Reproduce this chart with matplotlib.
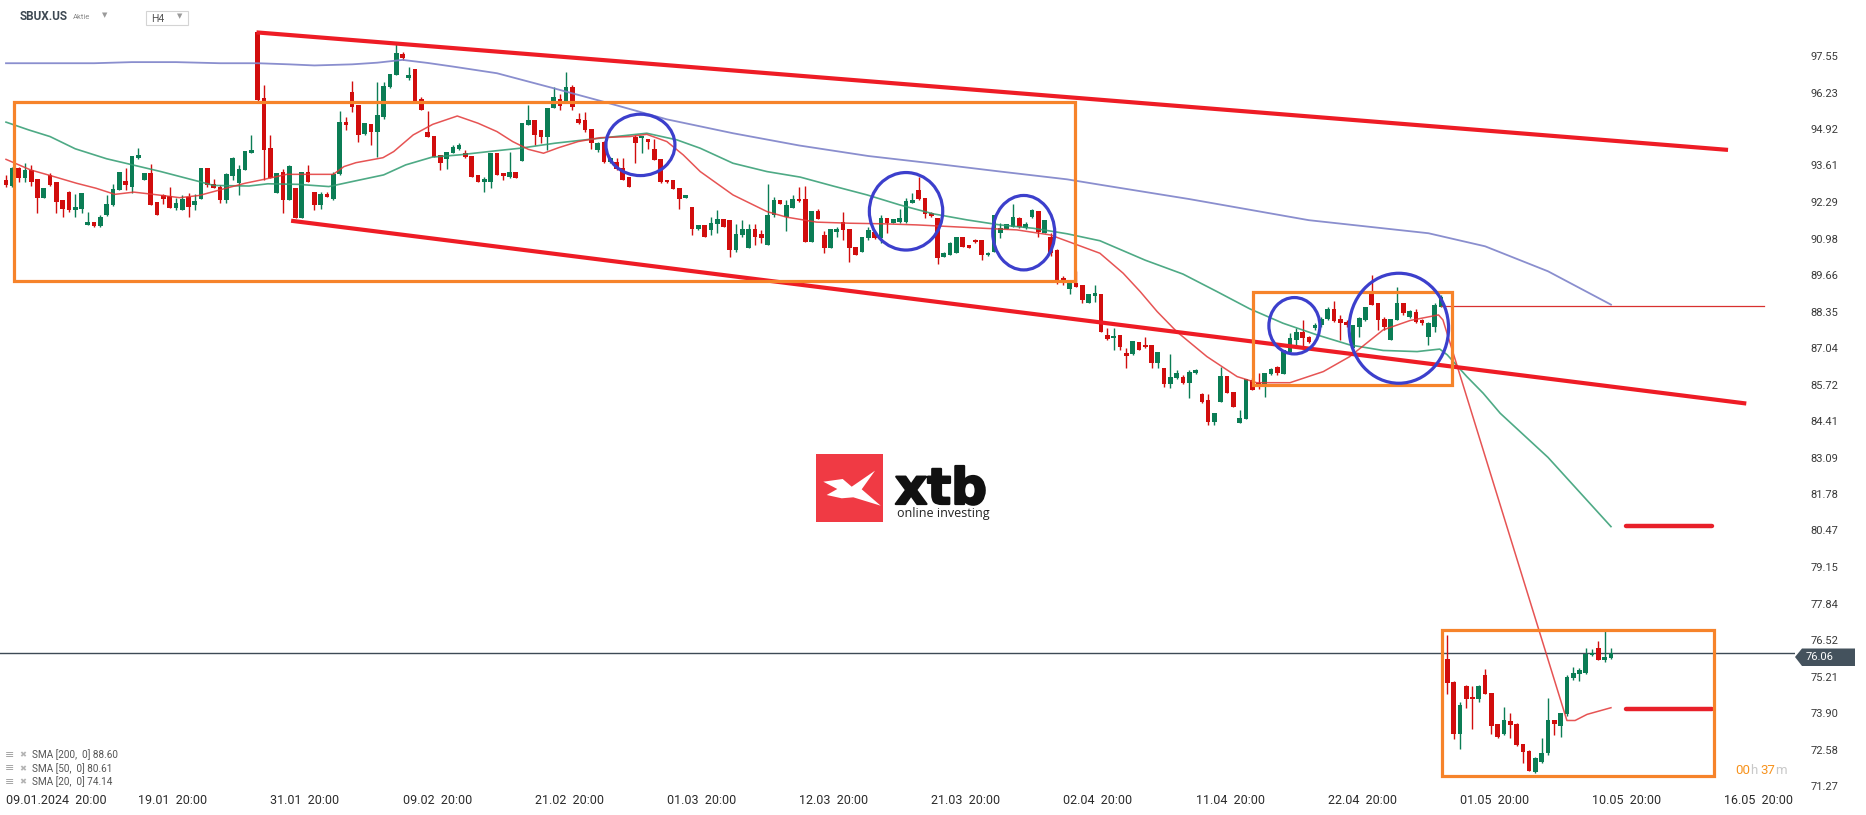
import matplotlib
matplotlib.use("Agg")
import matplotlib.pyplot as plt
import matplotlib.transforms as mtransforms
import matplotlib.patheffects as pe
from matplotlib.patches import Rectangle, Ellipse, Polygon
import numpy as np

# candle data, SBUX.US H4 (one entry per candle)
opens = [
    93.09, 92.87, 93.51, 93.17, 93.45, 93.14, 92.45, 93.28, 93.02, 92.37,
    92.66, 91.99, 92.06, 91.48, 91.58, 91.43, 91.83, 92.17, 92.71, 93.05,
    92.85, 93.88, 93.07, 93.34, 92.30, 92.53, 92.50, 92.09, 92.02, 92.47,
    92.17, 92.42, 93.52, 92.93, 92.85, 92.38, 93.23, 92.99, 93.46, 94.07,
    98.41, 96.03, 94.24, 92.63, 93.38, 92.38, 92.80, 91.73, 93.37, 92.66,
    92.17, 92.59, 92.42, 93.31, 95.18, 96.27, 95.78, 94.73, 95.11, 94.83,
    95.37, 96.45, 96.85, 97.63, 96.77, 97.07, 96.00, 94.83, 94.67, 93.99,
    93.85, 94.07, 94.21, 94.07, 93.95, 93.27, 93.01, 93.03, 94.07, 93.34,
    93.21, 93.39, 93.77, 95.07, 95.25, 94.89, 94.63, 95.67, 96.00, 95.93,
    96.45, 95.30, 95.25, 94.93, 94.17, 94.47, 93.75, 93.75, 93.53, 93.19,
    94.63, 94.59, 94.55, 94.21, 93.85, 93.09, 93.09, 92.81, 92.43, 92.13,
    91.34, 91.45, 91.27, 91.51, 91.67, 91.65, 90.57, 91.09, 90.63, 91.33,
    91.15, 90.73, 91.83, 92.37, 91.77, 92.09, 92.41, 92.41, 90.87, 91.97,
    91.09, 90.65, 91.23, 91.57, 91.33, 90.67, 90.51, 90.99, 91.21, 91.01,
    91.73, 91.55, 91.57, 91.59, 92.27, 92.71, 92.45, 91.89, 91.73, 90.33,
    90.39, 90.47, 91.05, 90.75, 90.93, 90.93, 90.37, 90.51, 91.17, 91.33,
    91.41, 91.73, 91.35, 91.75, 91.97, 91.17, 91.05, 90.57, 89.57, 89.17,
    89.38, 89.31, 88.67, 88.91, 88.99, 87.51, 87.39, 87.51, 86.85, 86.81,
    87.27, 87.15, 87.15, 86.49, 86.33, 85.73, 85.95, 86.01, 85.77, 86.13,
    85.39, 85.17, 84.39, 85.11, 86.03, 85.47, 84.35, 84.47, 85.89, 85.79,
    85.75, 86.11, 86.37, 86.09, 86.91, 87.33, 87.63, 87.45, 87.77, 87.87,
    88.07, 88.43, 88.07, 87.99, 87.03, 87.81, 88.05, 89.01, 88.65, 88.07,
    87.33, 88.05, 88.65, 88.15, 88.35, 88.05, 87.45, 87.81, 88.53, 75.83,
    75.03, 73.13, 74.87, 74.49, 74.39, 75.27, 74.63, 73.49, 73.13, 73.61,
    73.51, 72.77, 72.53, 71.79, 72.13, 72.45, 73.65, 73.43, 73.85, 75.17,
    75.29, 75.33, 75.99, 76.25, 75.79, 75.87,
]
highs = [
    93.27, 93.55, 93.55, 93.69, 93.63, 93.14, 92.80, 93.35, 93.02, 92.37,
    92.68, 92.57, 92.62, 91.93, 91.58, 91.84, 92.54, 92.93, 93.38, 93.51,
    93.95, 94.23, 93.34, 93.67, 92.30, 92.59, 92.83, 92.43, 92.54, 92.61,
    92.57, 93.52, 93.52, 93.11, 92.92, 93.33, 93.93, 93.63, 94.12, 94.71,
    98.45, 96.51, 94.71, 93.34, 93.47, 93.63, 92.80, 93.37, 93.61, 92.66,
    92.66, 92.66, 93.37, 95.57, 95.37, 96.65, 95.80, 95.14, 95.11, 96.60,
    96.60, 96.90, 98.01, 97.71, 97.17, 97.07, 96.06, 95.57, 94.67, 93.99,
    94.11, 94.35, 94.41, 94.15, 93.95, 93.27, 93.21, 94.07, 94.07, 93.34,
    94.11, 93.39, 95.15, 95.79, 95.25, 94.89, 95.67, 96.45, 96.20, 96.96,
    96.50, 95.49, 95.55, 94.93, 94.45, 94.50, 93.93, 93.87, 93.87, 93.19,
    94.70, 94.67, 94.55, 94.55, 93.85, 93.09, 93.09, 92.81, 92.55, 92.13,
    91.45, 91.45, 91.77, 92.01, 91.67, 91.65, 91.51, 91.65, 91.51, 91.51,
    91.29, 92.93, 92.49, 92.37, 92.37, 92.55, 92.85, 92.87, 91.97, 92.03,
    91.25, 91.33, 91.41, 91.95, 91.33, 90.67, 91.05, 91.41, 91.23, 91.83,
    91.73, 91.67, 92.03, 92.45, 92.61, 93.19, 92.45, 91.94, 91.73, 90.50,
    90.85, 91.05, 91.05, 90.75, 90.95, 90.93, 90.50, 91.83, 91.53, 91.51,
    92.21, 91.77, 91.59, 92.05, 91.97, 91.65, 91.17, 90.60, 89.63, 89.45,
    89.80, 89.31, 88.99, 89.31, 89.00, 87.77, 87.75, 87.51, 87.03, 87.30,
    87.27, 87.45, 87.15, 86.90, 86.33, 86.81, 86.25, 86.07, 86.25, 86.27,
    85.43, 85.39, 84.69, 86.35, 86.03, 85.47, 84.81, 85.91, 85.95, 86.13,
    86.13, 86.31, 86.39, 86.97, 87.57, 87.75, 88.05, 87.47, 87.93, 88.15,
    88.53, 88.73, 88.23, 88.05, 87.87, 88.17, 88.53, 89.65, 88.65, 88.17,
    88.07, 89.25, 88.67, 88.41, 88.43, 88.10, 87.99, 88.65, 88.95, 76.69,
    75.05, 74.31, 74.91, 74.87, 74.91, 75.47, 74.63, 73.49, 74.13, 73.90,
    73.55, 72.77, 72.55, 72.30, 73.01, 74.43, 73.65, 73.91, 75.25, 75.57,
    75.53, 76.25, 76.19, 76.49, 76.85, 76.23,
]
lows = [
    92.85, 92.85, 93.03, 93.03, 92.87, 91.91, 92.45, 92.87, 91.89, 91.77,
    91.95, 91.75, 91.91, 91.48, 91.41, 91.41, 91.79, 92.14, 92.71, 92.73,
    92.63, 93.83, 93.07, 92.20, 91.81, 92.24, 92.09, 91.99, 91.99, 91.75,
    91.99, 92.42, 92.83, 92.81, 92.27, 92.25, 93.09, 92.53, 93.46, 94.05,
    95.90, 93.09, 93.16, 92.63, 91.89, 92.37, 91.73, 91.73, 93.03, 92.01,
    92.03, 92.47, 92.35, 93.27, 94.87, 95.55, 94.47, 94.72, 94.34, 93.91,
    95.30, 96.40, 96.85, 97.40, 96.69, 95.90, 95.59, 94.65, 93.93, 93.43,
    93.50, 94.07, 94.15, 93.88, 93.21, 93.03, 92.67, 92.79, 93.25, 93.09,
    93.15, 93.17, 93.77, 95.07, 94.35, 94.41, 94.15, 95.67, 95.60, 95.90,
    95.60, 95.10, 94.80, 94.20, 94.10, 93.69, 93.70, 93.45, 93.09, 92.83,
    93.69, 94.07, 94.21, 93.79, 92.99, 92.97, 92.77, 92.05, 92.43, 91.10,
    91.30, 91.05, 91.11, 91.17, 91.41, 90.31, 90.51, 91.05, 90.63, 90.75,
    90.83, 90.73, 91.77, 92.21, 91.25, 92.07, 92.31, 90.87, 90.87, 91.69,
    90.45, 90.65, 91.05, 90.93, 90.15, 90.39, 90.51, 90.93, 90.95, 90.81,
    91.17, 91.55, 91.53, 91.55, 92.25, 92.37, 91.71, 91.75, 90.05, 90.30,
    90.39, 90.45, 90.69, 90.63, 90.81, 90.21, 90.35, 90.51, 90.99, 91.33,
    91.41, 91.35, 91.33, 91.71, 91.05, 91.17, 90.35, 89.35, 89.30, 89.00,
    89.22, 88.67, 88.65, 88.69, 87.60, 87.33, 86.97, 86.97, 86.33, 86.80,
    86.95, 87.03, 86.31, 86.31, 85.65, 85.59, 85.93, 85.75, 85.23, 86.11,
    85.07, 84.27, 84.27, 85.11, 85.43, 84.91, 84.35, 84.47, 85.51, 85.55,
    85.29, 86.08, 86.07, 86.09, 86.87, 87.15, 87.09, 87.23, 87.69, 87.80,
    88.05, 87.99, 87.33, 87.81, 87.03, 87.45, 88.00, 88.57, 87.69, 87.69,
    87.33, 88.05, 88.23, 88.11, 87.93, 87.85, 87.15, 87.63, 88.51, 74.57,
    72.97, 72.61, 74.09, 73.33, 74.30, 74.57, 73.13, 73.00, 73.10, 72.99,
    72.70, 72.11, 71.80, 71.75, 72.10, 72.40, 73.09, 73.03, 73.80, 75.07,
    75.05, 75.30, 75.95, 75.80, 75.75, 75.83,
]
closes = [
    92.92, 93.51, 93.17, 93.45, 93.03, 92.45, 92.80, 92.92, 92.31, 92.06,
    91.99, 92.12, 92.62, 91.58, 91.43, 91.77, 92.23, 92.77, 93.38, 92.89,
    93.95, 93.99, 93.34, 92.20, 91.81, 92.41, 92.09, 92.26, 92.41, 92.13,
    92.33, 93.52, 92.89, 92.81, 92.38, 93.31, 93.89, 93.49, 94.12, 94.17,
    95.97, 94.18, 93.16, 93.34, 92.38, 93.59, 91.73, 93.37, 93.03, 92.17,
    92.59, 92.49, 93.31, 95.18, 95.08, 95.73, 94.72, 95.14, 94.81, 95.43,
    96.48, 96.89, 97.65, 97.47, 96.87, 95.93, 95.61, 94.65, 93.93, 93.71,
    94.11, 94.29, 94.35, 93.91, 93.21, 93.03, 93.13, 94.07, 93.25, 93.22,
    93.37, 93.17, 95.15, 95.25, 94.69, 94.63, 95.67, 96.09, 95.75, 96.45,
    95.73, 95.15, 94.87, 94.41, 94.41, 93.75, 93.87, 93.47, 93.09, 92.83,
    94.43, 94.67, 94.47, 93.79, 93.03, 93.01, 92.77, 92.41, 92.55, 91.34,
    91.45, 91.05, 91.55, 91.67, 91.41, 90.57, 91.15, 91.33, 91.33, 91.05,
    91.01, 91.83, 92.37, 92.21, 92.19, 92.41, 92.33, 90.87, 91.97, 91.69,
    90.65, 91.33, 91.33, 91.27, 90.63, 90.39, 91.05, 91.27, 90.99, 91.71,
    91.55, 91.67, 91.71, 92.33, 92.37, 92.39, 91.85, 91.79, 90.29, 90.47,
    90.81, 91.05, 90.69, 90.63, 90.85, 90.37, 90.47, 91.83, 91.35, 91.51,
    91.75, 91.41, 91.51, 91.99, 91.23, 91.65, 90.45, 89.49, 89.50, 89.43,
    89.25, 88.77, 88.97, 89.01, 87.63, 87.37, 87.47, 87.07, 86.75, 87.29,
    86.97, 87.07, 86.49, 86.89, 85.75, 86.01, 86.13, 85.77, 86.19, 86.25,
    85.11, 84.39, 84.69, 86.03, 85.43, 84.91, 84.53, 85.91, 85.51, 85.75,
    86.13, 86.29, 86.13, 86.97, 87.41, 87.63, 87.39, 87.27, 87.87, 88.07,
    88.43, 88.01, 87.95, 87.87, 87.87, 88.11, 88.53, 88.57, 88.05, 87.81,
    88.07, 88.67, 88.29, 88.37, 87.99, 87.93, 87.93, 88.59, 88.87, 74.97,
    73.13, 74.17, 74.39, 74.39, 74.87, 74.57, 73.43, 73.05, 73.63, 73.45,
    72.73, 72.51, 71.81, 72.29, 72.47, 73.65, 73.49, 73.91, 75.21, 75.35,
    75.43, 76.01, 76.07, 75.81, 75.91, 76.07,
]

# moving averages, sampled along the drawn lines (candle index, price)
sma200_x = [0, 14, 20, 27, 34, 40, 45, 49, 55, 59, 63, 67, 71, 78, 87, 95, 105,
            115.5, 126, 137, 147, 158, 168.6, 174, 188, 207, 226, 235, 245, 255]
sma200_y = [97.29, 97.29, 97.33, 97.33, 97.29, 97.29, 97.25, 97.21, 97.25, 97.31,
            97.41, 97.30, 97.17, 96.93, 96.39, 95.90, 95.27, 94.77, 94.33, 93.95,
            93.69, 93.39, 93.11, 92.91, 92.40, 91.64, 91.17, 90.70, 89.80, 88.60]
sma50_x = [0, 3.6, 7, 11, 16, 19, 24.6, 30.7, 33, 38.6, 41.6, 46.4, 51.3, 55, 60,
           63.5, 67.7, 72, 77.5, 81.7, 87.2, 92.7, 96, 101.8, 106.6, 110.3, 115.5,
           120.9, 126.2, 131.4, 136.8, 142, 147.3, 152.7, 157.9, 163.2, 168.6,
           173.8, 181, 187, 192.4, 197.6, 202.9, 208.3, 213.5, 218.8, 224.2,
           227.8, 229, 232.1, 234.7, 237.4, 245, 255]
sma50_y = [95.17, 94.89, 94.65, 94.21, 93.85, 93.69, 93.39, 93.03, 92.89, 92.87,
           92.95, 92.93, 92.85, 93.03, 93.27, 93.63, 93.91, 93.99, 94.13, 94.23,
           94.41, 94.55, 94.63, 94.77, 94.53, 94.23, 93.69, 93.39, 93.19, 92.87,
           92.55, 92.19, 91.87, 91.65, 91.47, 91.35, 91.15, 90.90, 90.20, 89.70,
           89.07, 88.45, 87.93, 87.51, 87.15, 86.95, 86.91, 87.00, 86.79, 86.01,
           85.41, 84.69, 83.10, 80.61]
sma20_x = [0, 3.9, 7.6, 11.2, 14.3, 17.3, 20.3, 23.4, 27.6, 30.7, 34.3, 38, 41,
           44.6, 48.9, 52, 53.7, 55.6, 59.9, 61.6, 64.7, 67.8, 71.7, 75, 78, 80.5,
           83, 85.4, 87.8, 90.9, 94.4, 99.1, 101.8, 105, 107.6, 110.3, 115.5,
           120.9, 124, 128.8, 134.1, 139.3, 144.7, 150, 155.2, 160.6, 165.9,
           169.5, 173.8, 177.5, 180.2, 182.9, 186, 190.8, 195.6, 198.7, 204,
           209.3, 213.5, 218.8, 223.1, 227.6, 228.3, 248, 249.3, 251.2, 255]
sma20_y = [93.83, 93.45, 93.21, 92.97, 92.79, 92.57, 92.65, 92.57, 92.45, 92.53,
           92.75, 92.97, 93.11, 93.29, 93.29, 93.29, 93.57, 93.71, 93.89, 94.11,
           94.71, 95.09, 95.39, 95.13, 94.83, 94.47, 94.19, 94.05, 94.25, 94.47,
           94.61, 94.65, 94.73, 94.47, 93.99, 93.39, 92.55, 91.95, 91.75, 91.57,
           91.53, 91.51, 91.47, 91.41, 91.35, 91.29, 91.11, 90.81, 90.45, 89.73,
           89.07, 88.35, 87.63, 86.73, 86.01, 85.79, 85.79, 86.19, 86.73, 87.69,
           88.03, 88.23, 88.05, 73.63, 73.63, 73.85, 74.09]
sma_legend = ["SMA [200,  0] 88.60", "SMA [50,  0] 80.61", "SMA [20,  0] 74.14"]

# drawn annotations: trend channel, boxes, circles, levels
channel_top = ([39.8, 273.6], [98.40, 94.17])
channel_bottom = ([45.3, 276.5], [91.62, 85.04])
boxes = [(1.3, 89.45, 169.8, 95.88), (198.1, 85.70, 229.7, 89.07),
         (228.1, 71.64, 271.3, 76.89)]
circles = [(100.8, 94.35, 10.96, 2.21), (143.0, 91.96, 11.66, 2.79),
           (161.7, 91.19, 9.85, 2.68), (204.7, 87.84, 8.10, 2.03),
           (221.3, 87.75, 15.8, 3.96)]
level_line = ([228, 279.3], 88.56)
short_levels = ([257.4, 271.0], [80.63, 74.05])
last_price = 76.06

price_ticks = [97.55, 96.23, 94.92, 93.61, 92.29, 90.98, 89.66, 88.35, 87.04,
               85.72, 84.41, 83.09, 81.78, 80.47, 79.15, 77.84, 76.52, 75.21,
               73.90, 72.58, 71.27]
date_ticks = list(range(0, 274, 21))
date_labels = ["09.01.2024  20:00", "19.01  20:00", "31.01  20:00", "09.02  20:00",
               "21.02  20:00", "01.03  20:00", "12.03  20:00", "21.03  20:00",
               "02.04  20:00", "11.04  20:00", "22.04  20:00", "01.05  20:00",
               "10.05  20:00", "16.05  20:00"]

GREEN = "#0b7d55"
RED = "#d10d0d"

plt.rcParams["font.family"] = ["Roboto", "DejaVu Sans"]

W, H = 1866, 815
fig = plt.figure(figsize=(W / 100, H / 100), dpi=100)
fig.patch.set_facecolor("white")
# transform for things placed in pixels from the top-left corner
pix = mtransforms.Affine2D().scale(1.0 / W, -1.0 / H).translate(0, 1) + fig.transFigure

ax = fig.add_axes([0, 25 / H, 1795 / W, 790 / H])
ax.set_xlim(-0.953, 284.24)
ax.set_ylim(71.128, 99.566)
for s in ax.spines.values():
    s.set_visible(False)

o = np.array(opens)
h = np.array(highs)
l = np.array(lows)
c = np.array(closes)
idx = np.arange(len(o))
cols = [GREEN if cc >= oo else RED for oo, cc in zip(o, c)]

ax.vlines(idx, l, h, colors=cols, lw=1.0, zorder=2)
body = np.maximum(np.abs(c - o), 0.04)
ax.bar(idx, body, bottom=np.minimum(o, c), width=0.74, color=cols,
       linewidth=0, zorder=3)

ax.plot(sma200_x, sma200_y, color="#7d82c9", lw=1.3, alpha=0.9, zorder=4)
ax.plot(sma50_x, sma50_y, color="#2f9b70", lw=1.2, alpha=0.85, zorder=4)
ax.plot(sma20_x, sma20_y, color="#e23636", lw=1.1, alpha=0.85, zorder=4)

ax.axhline(last_price, color="#3d4a55", lw=1.0, zorder=1)

ax.plot(*channel_top, color="#ee1c25", lw=3.0, solid_capstyle="butt", zorder=5)
ax.plot(*channel_bottom, color="#ee1c25", lw=3.0, solid_capstyle="butt", zorder=5)
ax.plot(level_line[0], [level_line[1]] * 2, color="#d8312f", lw=0.9, zorder=4)
for lv in short_levels[1]:
    ax.plot(short_levels[0], [lv, lv], color="#e8202a", lw=3.2,
            solid_capstyle="round", zorder=5)

for x1, y1, x2, y2 in boxes:
    ax.add_patch(Rectangle((x1, y1), x2 - x1, y2 - y1, fill=False,
                           ec="#f6832a", lw=2.3, zorder=6))
for cx, cy, cw, ch in circles:
    ax.add_patch(Ellipse((cx, cy), cw, ch, fill=False, ec="#3c3fcc",
                         lw=2.3, zorder=6))

# axes ticks
ax.yaxis.tick_right()
ax.set_yticks(price_ticks)
ax.set_yticklabels([f"{v:.2f}" for v in price_ticks])
ax.tick_params(axis="y", length=0, pad=11, labelsize=8, labelcolor="#3a3a3a")
ax.set_xticks(date_ticks)
ax.set_xticklabels(date_labels)
ax.tick_params(axis="x", length=0, pad=3, labelsize=9, labelcolor="#2b2b2b")
for t in ax.get_xticklabels():
    t.set_ha("left")

# last price tag
tag = Polygon([(1795, 657), (1802, 648.5), (1855, 648.5), (1855, 666), (1802, 666)],
              closed=True, fc="#44525d", ec="none", transform=pix)
fig.add_artist(tag)
fig.text(1806, 657.5, f"{last_price:.2f}", transform=pix, color="white",
         fontsize=8, va="center", ha="left")

# header
fig.text(20, 16, "SBUX.US", transform=pix, fontsize=8.5, fontweight="bold",
         color="#3d4852", va="center")
fig.text(73, 17, "Aktie", transform=pix, fontsize=5.5, color="#8a8a8a", va="center")
fig.text(102, 15, "▼", transform=pix, fontsize=5, color="#9a9a9a", va="center",
         family="DejaVu Sans")
fig.add_artist(Rectangle((146, 11), 42, 14, transform=pix, fill=False,
                         ec="#d4d4d4", lw=0.8))
fig.text(151, 18.5, "H4", transform=pix, fontsize=7.5, color="#555555", va="center")
fig.text(177, 16, "▼", transform=pix, fontsize=5, color="#9a9a9a", va="center",
         family="DejaVu Sans")

# legend of indicators
for k, txt in enumerate(sma_legend):
    yy = 755 + k * 13.5
    fig.text(5, yy, "≡", transform=pix, fontsize=8, color="#a0a0a0", va="center",
             family="DejaVu Sans")
    fig.text(19, yy, "✖", transform=pix, fontsize=6, color="#b4b4b4", va="center",
             family="DejaVu Sans")
    fig.text(32, yy, txt, transform=pix, fontsize=7.2, color="#555555", va="center")

# countdown
fig.text(1735, 771, "00", transform=pix, fontsize=9.5, color="#f7931e", va="center")
fig.text(1750, 771, "h", transform=pix, fontsize=9.5, color="#c8c8c8", va="center")
fig.text(1760, 771, "37", transform=pix, fontsize=9.5, color="#f7931e", va="center")
fig.text(1775, 771, "m", transform=pix, fontsize=9.5, color="#c8c8c8", va="center")

# xtb logo
fig.add_artist(Rectangle((816, 454), 67, 68, transform=pix, fc="#f03a44", ec="none"))
xmark = [(823.3, 481.7), (842.7, 479), (851.7, 486.7), (875, 470.7), (861.7, 489.3),
         (880.7, 505.7), (853.3, 497.3), (841.7, 498.3), (826.7, 495), (837.3, 489)]
fig.add_artist(Polygon(xmark, closed=True, transform=pix, fc="white", ec="none"))
fig.text(895, 504, "xtb", transform=pix, fontsize=36, fontweight="bold",
         family="DejaVu Sans", color="#111111", va="baseline",
         path_effects=[pe.withStroke(linewidth=1.6, foreground="#111111")])
fig.text(897, 513, "online investing", transform=pix, fontsize=9, color="#222222",
         va="center", family="Open Sans")

fig.savefig("out.png", dpi=100)
